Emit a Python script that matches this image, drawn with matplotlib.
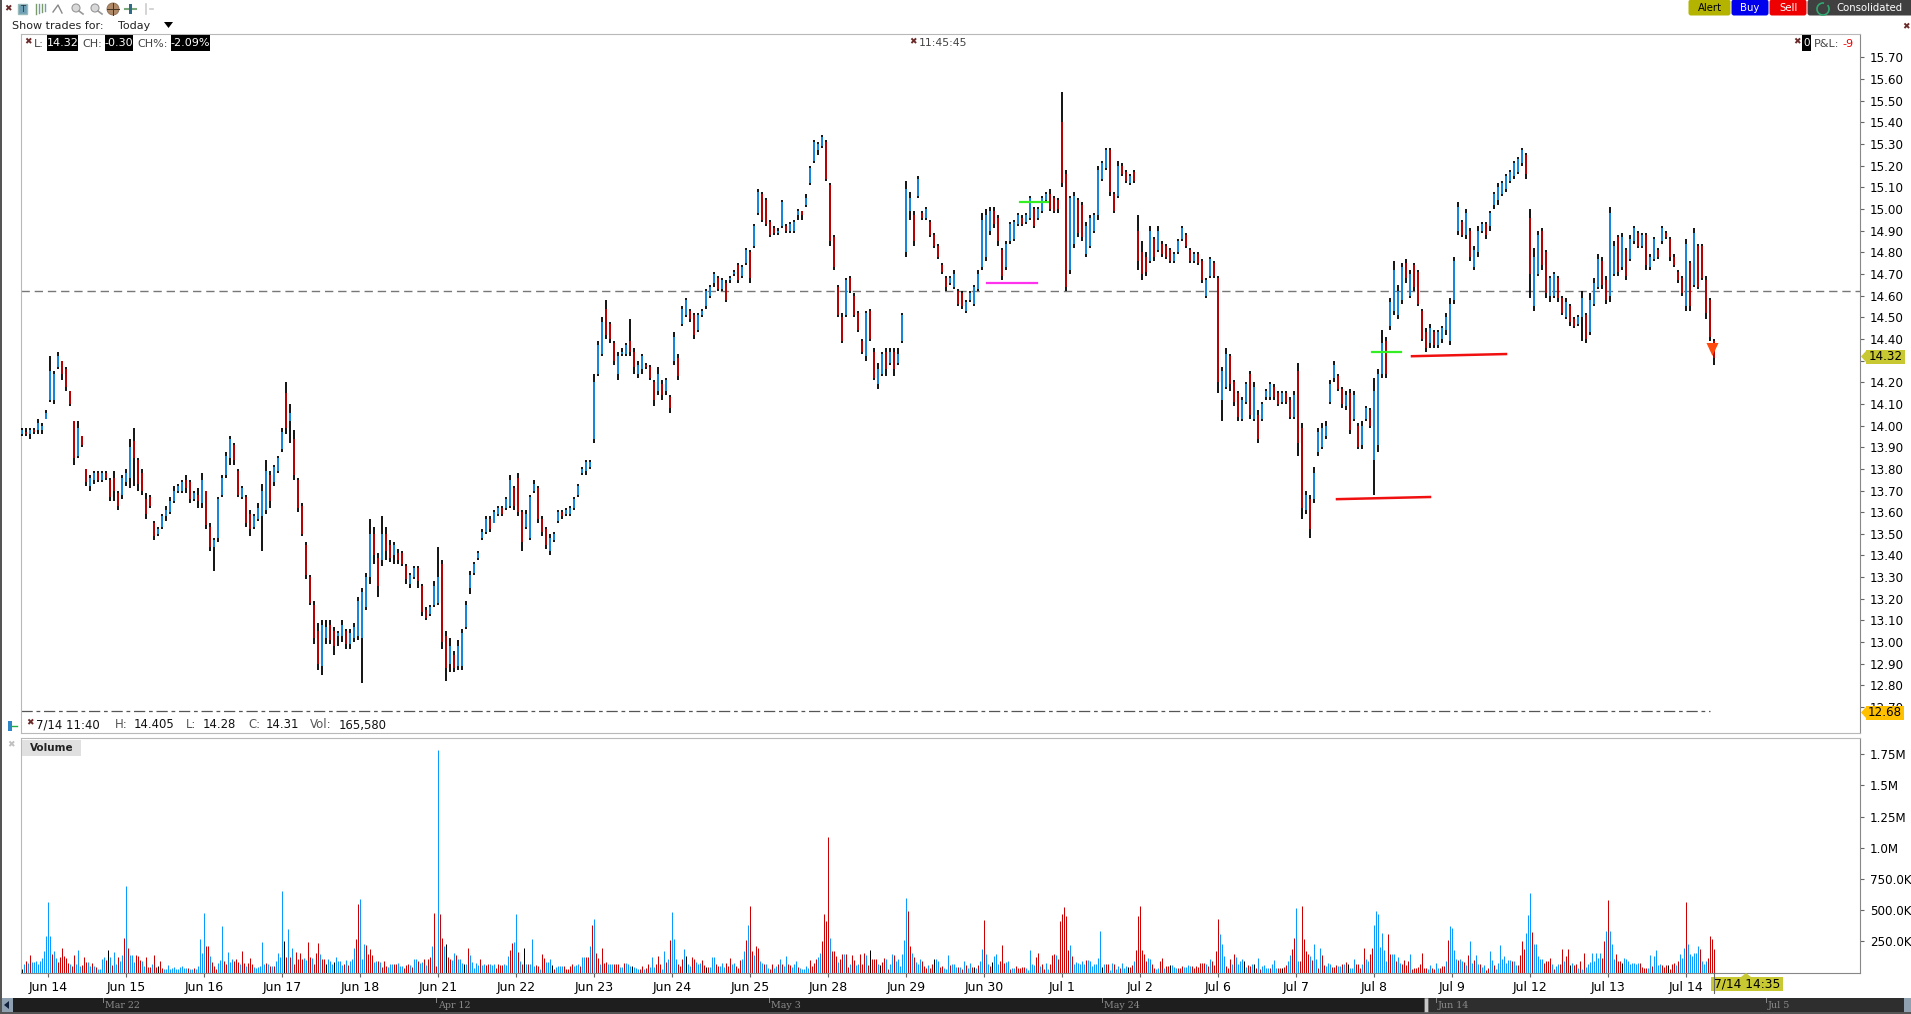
import matplotlib
matplotlib.use('Agg')
import matplotlib.pyplot as plt
import numpy as np
from matplotlib.patches import Rectangle, FancyBboxPatch, Polygon, Arc

W, H = 1911, 1014

# price bars in cents, one bar read for every two 10 minute bars
highs = [
 1399,1399,1399,1399,1403,1401,1407,1432,1425,1434, 1430,1427,1416,1402,1402,1395,1380,1377,1379,1379,
 1379,1379,1376,1379,1370,1377,1380,1394,1399,1385, 1380,1369,1368,1356,1353,1359,1363,1367,1372,1373,
 1375,1377,1375,1370,1371,1378,1370,1355,1348,1367, 1377,1388,1395,1392,1380,1372,1368,1361,1359,1364,
 1373,1384,1379,1382,1386,1399,1420,1410,1398,1376, 1364,1346,1331,1319,1309,1310,1310,1310,1307,1305,
 1310,1306,1306,1309,1321,1325,1332,1357,1353,1341, 1358,1353,1347,1346,1343,1342,1336,1332,1335,1335,
 1327,1316,1317,1328,1344,1338,1305,1302,1296,1301, 1306,1319,1333,
 1337,1342,1352,1358,1358,1361,1363,1363,1367,1377, 1372,1378,1361,1361,1368,1375,1372,1358,1353,1350,
 1351,1361,1361,1362,1363,1367,1373,1381,1384,1384, 1424,1439,1450,1458,1448,1439,1434,1436,1438,1449,
 1436,1430,1433,1429,1428,1421,1427,1421,1422,1414, 1443,1433,1455,1459,1454,1452,1452,1454,1463,1465,
 1471,1469,1468,1467,1469,1472,1475,1474,1482,1481, 1493,1509,1508,1505,1495,1492,1491,1504,1493,1494,
 1495,1500,1499,1507,1520,1532,1531,1534,1532,1512, 1488,1465,1452,1468,1469,1461,1453,1440,1453,1454,
 1436,1429,1434,1436,1436,1436,1436,1452, 1513,1508,1499,1515,
 1499,1501,1495,1489,1484,1475,1469,1469,1472,1463, 1462,1458,1462,1465,1472,1498,1500,1501,1501,1497,
 1482,1485,1494,1495,1498,1497,1498,1506,1501,1501, 1506,1508,1509,1506,1505,1554,1518,1506,1508,1505,
 1503,1494,1497,1498,1520,1522,1528,1528,1508,1522, 1521,1518,1516,1518,1497,1485,1480,1492,1487,1492,
 1485,1484,1482,1480,1486,1492,1489,1482,1480,1480,
 1477,1468,1478,1476,1469,1427,1436,1433,1421,1416, 1413,1420,1425,1420,1407,1411,1417,1420,1419,1416,
 1416,1416,1413,1416,1429,1401,1370,1368,1381,1399, 1401,1402,1421,1430,1424,1418,1416,1417,1416,1401,
 1402,1409,1408,1422,1426,1444,1441,1459,1476,1465, 1475,1477,1472,1475,1472,1454,1445,1447,1444,1444,
 1446,1452,1459,1478,1503,1495,1500,1491,1483,1492, 1494,1494,1499,1508,1512,1513,1516,1518,1522,1524,
 1528,1526,1500,1482,1490,1491,1481,1469,1471,1469, 1460,1459,1456,1450,1451,1462,1452,1461,1468,1479,
 1478,1469,1501,1485,1488,1489,1482,1488,1492,1490, 1489,1489,1479,1487,1482,1492,1490,1487,1479,1472,
 1469,1486,1476,1491,1484,1484,1469,1459,1440]
lows = [
 1395,1395,1394,1396,1396,1396,1403,1411,1410,1426, 1421,1416,1409,1382,1385,1390,1372,1370,1373,1374,
 1374,1375,1365,1365,1361,1366,1372,1371,1372,1370, 1368,1357,1362,1347,1349,1352,1356,1359,1364,1369,
 1369,1369,1364,1365,1362,1362,1352,1342,1333,1346, 1367,1376,1382,1382,1367,1366,1353,1349,1352,1356,
 1342,1359,1362,1372,1378,1388,1396,1392,1375,1360, 1349,1329,1317,1299,1287,1285,1299,1299,1294,1298,
 1300,1297,1297,1300,1301,1281,1315,1327,1336,1321, 1335,1338,1337,1336,1336,1335,1327,1325,1329,1325,
 1312,1310,1312,1316,1317,1297,1282,1286,1286,1287, 1287,1306,1322,
 1331,1338,1347,1350,1351,1355,1358,1358,1361,1362, 1361,1358,1342,1352,1347,1369,1355,1349,1343,1340,
 1346,1355,1357,1358,1358,1361,1367,1377,1377,1380, 1392,1423,1432,1440,1438,1428,1421,1432,1432,1432,
 1424,1422,1424,1426,1421,1409,1414,1412,1414,1406, 1428,1421,1446,1450,1448,1440,1443,1450,1454,1459,
 1464,1462,1462,1457,1466,1469,1466,1468,1474,1466, 1482,1497,1494,1492,1487,1488,1488,1491,1489,1489,
 1489,1495,1495,1501,1511,1521,1525,1528,1513,1483, 1472,1450,1438,1450,1461,1450,1443,1433,1430,1439,
 1421,1417,1423,1423,1428,1423,1428,1438, 1478,1495,1483,1505,
 1495,1495,1487,1482,1477,1470,1462,1465,1463,1455, 1454,1452,1457,1455,1462,1472,1476,1488,1491,1483,
 1467,1472,1484,1485,1492,1492,1493,1495,1491,1495, 1498,1503,1499,1498,1498,1510,1462,1470,1482,1487,
 1485,1478,1482,1489,1495,1513,1518,1506,1498,1505, 1515,1512,1511,1512,1472,1467,1469,1475,1476,1480,
 1478,1477,1475,1475,1479,1485,1482,1475,1475,1474,
 1466,1459,1468,1468,1415,1402,1417,1416,1409,1402, 1402,1410,1403,1402,1392,1402,1412,1412,1412,1409,
 1410,1410,1403,1403,1386,1357,1359,1348,1364,1386, 1389,1394,1410,1420,1416,1408,1407,1396,1402,1389,
 1389,1402,1399,1368,1388,1422,1422,1444,1451,1449, 1456,1466,1459,1462,1455,1439,1434,1436,1436,1436,
 1438,1442,1437,1456,1488,1487,1486,1476,1472,1478, 1489,1486,1490,1500,1502,1506,1508,1512,1514,1516,
 1520,1514,1459,1453,1469,1472,1459,1457,1459,1457, 1451,1449,1446,1445,1446,1439,1438,1442,1455,1463,
 1463,1456,1457,1469,1469,1472,1467,1476,1484,1482, 1482,1472,1472,1476,1477,1484,1486,1476,1473,1466,
 1460,1453,1453,1464,1463,1467,1449,1439,1428]
opens = [
 1396,1397,1396,1398,1398,1398,1403,1412,1412,1427, 1430,1426,1416,1402,1386,1395,1380,1372,1375,1378,
 1375,1378,1375,1376,1369,1368,1374,1376,1393,1384, 1378,1366,1367,1355,1350,1353,1358,1360,1365,1370,
 1370,1375,1374,1366,1368,1364,1370,1353,1344,1348, 1368,1377,1385,1391,1379,1367,1367,1359,1353,1357,
 1358,1361,1377,1374,1379,1389,1415,1402,1394,1375, 1363,1345,1330,1317,1305,1289,1302,1308,1305,1303,
 1303,1305,1299,1302,1303,1302,1316,1330,1350,1339, 1338,1350,1345,1340,1341,1341,1335,1327,1330,1334,
 1326,1315,1313,1317,1318,1336,1303,1290,1294,1289, 1289,1307,1325,
 1332,1339,1348,1351,1357,1355,1359,1362,1362,1363, 1371,1376,1360,1353,1348,1370,1371,1357,1352,1342,
 1347,1356,1360,1359,1359,1362,1368,1378,1379,1381, 1394,1424,1433,1454,1447,1438,1424,1433,1433,1439,
 1434,1424,1426,1428,1427,1420,1416,1419,1416,1413, 1430,1431,1447,1451,1453,1451,1444,1451,1455,1460,
 1466,1468,1463,1466,1467,1470,1474,1469,1475,1480, 1483,1498,1507,1504,1494,1491,1489,1492,1492,1490,
 1490,1497,1499,1502,1512,1522,1527,1529,1531,1511, 1487,1464,1450,1451,1468,1460,1452,1439,1432,1453,
 1434,1419,1424,1434,1429,1434,1429,1439, 1480,1499,1497,1506,
 1498,1496,1494,1488,1483,1474,1468,1466,1464,1462, 1461,1453,1458,1456,1463,1473,1478,1490,1499,1496,
 1481,1473,1485,1486,1493,1496,1494,1496,1500,1496, 1499,1504,1507,1505,1504,1540,1516,1472,1484,1504,
 1502,1479,1483,1490,1497,1514,1519,1527,1507,1506, 1520,1517,1512,1517,1490,1480,1478,1476,1486,1481,
 1484,1483,1481,1476,1480,1486,1488,1481,1476,1479,
 1476,1460,1469,1475,1468,1412,1418,1432,1420,1415, 1403,1411,1424,1403,1405,1403,1413,1413,1418,1415,
 1411,1415,1412,1404,1425,1399,1361,1366,1366,1388, 1390,1395,1411,1422,1423,1417,1409,1415,1403,1400,
 1391,1403,1407,1384,1391,1424,1439,1446,1453,1451, 1458,1475,1460,1474,1471,1453,1443,1438,1443,1437,
 1440,1444,1439,1458,1490,1494,1488,1490,1473,1480, 1490,1493,1492,1502,1504,1507,1509,1513,1515,1517,
 1521,1525,1496,1455,1470,1490,1480,1460,1460,1468, 1459,1450,1455,1449,1447,1450,1451,1443,1456,1464,
 1476,1467,1460,1470,1487,1473,1481,1477,1485,1489, 1483,1488,1473,1477,1481,1485,1489,1486,1478,1471,
 1468,1455,1475,1465,1483,1483,1467,1458,1439]
closes = [
 1398,1396,1398,1397,1401,1400,1406,1425,1424,1432, 1424,1418,1410,1385,1399,1391,1374,1376,1378,1375,
 1378,1376,1367,1370,1363,1376,1378,1390,1385,1373, 1370,1359,1363,1349,1352,1358,1361,1365,1370,1372,
 1374,1371,1366,1369,1365,1375,1354,1344,1347,1366, 1376,1386,1394,1384,1368,1371,1355,1352,1358,1362,
 1370,1379,1365,1381,1385,1397,1399,1406,1377,1362, 1350,1331,1318,1302,1290,1308,1307,1301,1298,1304,
 1308,1299,1304,1307,1319,1323,1330,1350,1340,1326, 1350,1342,1339,1345,1338,1336,1329,1331,1334,1328,
 1314,1311,1316,1326,1330,1300,1288,1298,1288,1298, 1304,1317,1331,
 1336,1341,1351,1357,1352,1360,1362,1359,1366,1375, 1363,1360,1346,1359,1367,1373,1357,1351,1345,1348,
 1350,1360,1358,1361,1362,1366,1372,1380,1383,1383, 1420,1437,1448,1442,1440,1430,1432,1434,1437,1434,
 1427,1428,1432,1427,1422,1412,1424,1414,1421,1408, 1441,1423,1454,1458,1449,1442,1451,1453,1462,1464,
 1470,1463,1467,1458,1468,1471,1467,1473,1481,1468, 1492,1508,1495,1493,1488,1489,1490,1503,1490,1493,
 1494,1499,1497,1505,1519,1531,1530,1533,1514,1485, 1473,1451,1439,1467,1462,1451,1444,1434,1452,1440,
 1422,1426,1433,1426,1434,1426,1433,1451, 1509,1505,1485,1514,
 1496,1500,1488,1483,1478,1471,1464,1468,1470,1456, 1455,1457,1461,1464,1470,1495,1497,1499,1493,1485,
 1469,1484,1493,1494,1497,1493,1497,1505,1492,1500, 1505,1507,1500,1499,1500,1512,1464,1505,1506,1489,
 1487,1492,1496,1497,1518,1521,1527,1508,1499,1520, 1516,1513,1515,1513,1476,1470,1471,1490,1478,1490,
 1479,1478,1476,1479,1485,1491,1483,1476,1479,1475,
 1467,1467,1477,1469,1420,1425,1433,1419,1411,1404, 1412,1419,1405,1418,1394,1410,1416,1419,1413,1410,
 1415,1411,1404,1414,1392,1362,1368,1352,1378,1397, 1399,1400,1419,1428,1417,1410,1414,1398,1414,1390,
 1400,1408,1400,1416,1424,1438,1424,1457,1472,1462, 1473,1468,1470,1464,1456,1440,1436,1445,1437,1443,
 1445,1450,1456,1476,1501,1488,1498,1478,1481,1490, 1493,1488,1498,1507,1510,1512,1515,1517,1521,1523,
 1527,1516,1470,1478,1488,1474,1461,1468,1470,1459, 1452,1457,1448,1446,1450,1459,1440,1458,1466,1477,
 1465,1458,1498,1483,1471,1487,1469,1486,1491,1483, 1488,1474,1478,1486,1478,1491,1487,1478,1474,1467,
 1461,1484,1455,1489,1464,1468,1452,1441,1431]

# first day-tick bar index is 13, one day is 39 bars
day_labels = ['Jun 14','Jun 15','Jun 16','Jun 17','Jun 18','Jun 21','Jun 22','Jun 23','Jun 24','Jun 25','Jun 28',
              'Jun 29','Jun 30','Jul 1','Jul 2','Jul 6','Jul 7','Jul 8','Jul 9','Jul 12','Jul 13','Jul 14']

# volume in thousands, per session
vol_pre = [30,65,90,75,140,85,85,90,70,90,115,175,290]
vol_days = [
 [565,290,145,175,115,85,125,195,130,115,75,65,55,140,65,180,55,60,125,85,85,55,75,50,45,30,25,105,125,100,180,125,60,165,70,125,90,140,275],
 [695,200,140,140,85,140,135,100,90,50,125,45,45,65,140,45,55,90,35,30,25,60,30,40,45,25,30,45,55,35,35,35,25,25,40,25,50,265,160],
 [480,210,210,130,85,55,25,75,100,370,90,65,165,85,105,90,105,85,70,175,75,50,75,115,65,45,40,45,50,245,65,75,70,55,55,55,95,155,125],
 [650,250,125,345,125,195,70,165,110,155,110,115,100,245,125,115,70,155,235,145,105,105,70,105,90,70,85,125,90,90,60,65,100,60,95,105,195,265,550],
 [590,105,225,220,145,185,140,85,90,90,85,45,90,55,45,70,65,65,65,75,50,50,35,60,65,60,45,105,105,90,80,85,105,60,105,125,210,480,50],
 [1780,470,275,210,225,125,110,100,155,140,105,110,75,65,70,195,140,85,35,75,60,105,60,70,60,65,65,60,65,35,70,60,60,65,60,130,180,240,245],
 [467,165,90,65,195,70,65,65,265,55,60,50,30,145,120,85,85,110,60,30,45,55,55,55,50,30,30,55,65,50,60,70,55,125,125,125,125,210,380],
 [425,160,120,65,200,75,85,65,65,70,65,65,65,45,45,80,80,65,55,55,45,40,25,30,55,30,40,65,45,125,45,65,130,70,30,175,85,105,260],
 [485,270,105,70,55,105,185,130,65,50,125,105,85,70,80,100,60,45,45,45,125,125,70,50,55,80,45,80,50,115,65,75,50,40,100,105,170,260,380],
 [530,170,140,210,195,90,75,65,70,40,25,70,35,55,65,110,65,50,130,70,60,45,65,95,45,40,30,30,50,40,100,55,80,110,125,160,250,470,410],
 [1090,275,175,175,130,85,110,150,150,145,45,65,140,100,60,70,145,70,160,140,60,180,110,110,110,70,60,85,120,110,30,70,150,140,90,105,50,145,260],
 [600,490,210,160,125,85,70,110,95,50,40,60,40,65,105,110,90,45,50,35,25,140,60,70,70,45,45,45,30,90,60,40,80,45,45,35,60,90,185],
 [420,150,70,55,85,130,145,70,90,220,80,85,90,30,40,40,50,40,35,45,45,35,20,180,70,60,125,160,55,70,30,80,30,70,140,150,140,110,410],
 [465,525,450,180,220,130,65,85,75,70,90,65,100,100,90,55,65,70,115,330,45,70,65,70,20,80,65,30,50,40,80,40,55,45,45,60,90,180,450],
 [530,180,145,90,120,105,70,35,25,35,90,120,40,55,50,60,60,45,35,40,40,50,45,45,60,50,55,40,55,45,75,80,80,70,50,110,90,60,170],
 [425,305,230,130,50,40,110,70,150,125,65,95,105,90,45,60,50,70,70,35,120,30,50,60,40,35,35,70,100,40,40,40,40,45,60,95,140,185,280],
 [520,95,90,530,265,170,145,135,100,225,110,40,200,140,60,50,80,65,45,45,60,50,50,65,70,85,70,35,40,105,65,65,35,70,195,105,90,150,200],
 [380,490,465,205,315,180,90,305,150,145,150,90,125,75,65,100,60,90,145,30,40,35,45,65,160,40,40,30,60,40,30,80,35,35,55,55,95,260,370],
 [360,180,105,100,110,95,85,60,140,250,80,100,140,70,65,45,60,20,35,170,100,60,30,80,220,105,130,75,100,100,90,90,60,60,140,250,185,320,460],
 [640,325,225,225,130,105,110,80,90,90,120,65,30,50,70,65,185,95,130,185,60,75,60,70,35,95,30,155,45,65,85,155,90,155,120,155,115,250,330],
 [585,330,225,110,150,90,90,80,115,105,90,70,75,80,70,80,75,45,40,35,35,140,50,130,180,60,65,60,45,60,60,30,70,80,60,90,145,120,200],
 [565,225,145,130,155,155,215,185,90,65,90,120,295,265,185],
]
# bar colour per session: b up, r down, k unchanged
col_pre = 'kbrbrbbbbbbbb'
col_days = [
 'bbrbbrrrrrrbrrbbbrrrbbrbrbbbbrkbrbbrbbr',
 'brbbbrrrbbrrrbrrkrrbbbbbbbbbbbbrbbrbbbb',
 'brrbrrrbbbrrbbbrrrbrrbrrrbbbbbbrbrbrbbb',
 'bkrbrbrrrrrbbrrbrrrbrrkbbbkbbbbrbrbbbrr',
 'bbbrrrrbbrbrrrbbbrrbbbrrrbrbbrbbrbrrbrr',
 'brrbkrrbbrbbbkbrbbbbbrbbrrbbbrrrrbbbrrb',
 'brbrkbrbbbrrbrrbbbkrbbbbrrrrrbbbrbbrrbr',
 'brrbrrrbbbrrrbbrbbbkbbbrrbrrbbbrrrbbrbr',
 'bbbrrrbkbbrrbbbrrkrbbbrrbbbrrrbbrrrbbrb',
 'rrbrrbbrbbrrbbrbrbbrrbbbrbbbbbrrrrbbrrr',
 'rbrrrbrrbrrbrrbbrrrbrkrrrbkrrbrbbrbbbbb',
 'brrbrbbbrrrbrrkbbrrbbbrbbbrbrbrbbrkbrbb',
 'rbbrkbbbrrrbbrbbrrrrrbbbbbrrbrrbbrrrbrr',
 'rrrrbrbbbbbbrbbbbbbbkbrrbbrbbrbbbkrrbrr',
 'rrrrbbrrbbrrbrrkbbbrrrbbbbrrrrrrrbrbrrr',
 'rbbbrrrbrbbbbkbrrbkrbrbbbbrbbbrrkrrbbrr',
 'bbrrrrrbrbbrbrrbbbrrrbbrbrkbbbrrrbrbbrr',
 'bbbbbbbrrbbrbbrrrrbrrrrrrrrbbrrbbrrrbrb',
 'bbbrbbrbrbbrbbrbbrrbbrbbbbbbbbrbbrrrrbb',
 'brbbbbbrrrrbrbbrrbrrkbrrbrbrbbbbbbbbrrb',
 'rbbbrrrkbbbbbbbbrrrrbbrbbbbrrrkrrrbrbbb',
 'rbbbbbbrbbbrrrr',
]

levels_price = [12.7 + 0.1*k for k in range(31)]
vol_ticks = [250,500,750,1000,1250,1500,1750]
vol_tick_labels = ['250.0K','500.0K','750.0K','1.0M','1.25M','1.5M','1.75M']

BLUE = '#1a94ee'
RED = '#c80000'
BODY = {'b': '#0a9bff', 'r': '#cc0000', 'k': '#000000'}

def px2ax(l, t, r, b):
    return [l/W, 1-b/H, (r-l)/W, (b-t)/H]

def bar_x(px):
    return (px-21.8)/2.0

fig = plt.figure(figsize=(W/100, H/100), dpi=100, facecolor='white')

# price panel
ax = fig.add_axes(px2ax(20.5, 34, 1860, 733))
hi = np.array(highs)/100
lo = np.array(lows)/100
op = np.array(opens)/100
cl = np.array(closes)/100
n = min(len(hi), len(lo), len(op), len(cl))
xs = np.arange(n)*2
ax.vlines(xs, lo[:n], hi[:n], color='black', linewidth=1.3, zorder=3)
body_cols = [BLUE if c >= o else RED for o, c in zip(op[:n], cl[:n])]
ax.vlines(xs, np.minimum(op[:n], cl[:n]), np.maximum(op[:n], cl[:n]), colors=body_cols, linewidth=1.3, zorder=4)
ax.axhline(14.62, color='#777777', linewidth=1.0, dashes=(6, 3.5), zorder=2)
ax.plot([bar_x(20.5), bar_x(1710)], [12.68, 12.68], color='#555555', linewidth=0.9, dashes=(9, 3, 3, 3), zorder=2)
ax.set_xlim(bar_x(20.5), bar_x(1860))
ax.set_ylim(15.7-(733-57.3)/216.6, 15.7+(57.3-34)/216.6)
ax.yaxis.tick_right()
ax.set_yticks(levels_price)
# 14.30 sits fully under the last price tag
ax.set_yticklabels(['' if abs(v-14.3) < 0.01 else '%.2f' % v for v in levels_price], fontsize=8.6)
ax.tick_params(axis='y', length=3, width=0.8, color='#666666', pad=4)
ax.set_xticks([])
for s in ['left', 'top', 'bottom']:
    ax.spines[s].set_color('#b8b8b8')
ax.spines['right'].set_color('#888888')

# hand drawn lines
ax.plot([bar_x(987), bar_x(1037)], [14.66, 14.66], color='#ff33ee', linewidth=1.6, zorder=5)
ax.plot([bar_x(1020), bar_x(1048)], [15.03, 15.03], color='#33ee22', linewidth=1.6, zorder=5)
ax.plot([bar_x(1372), bar_x(1401)], [14.34, 14.34], color='#33ee22', linewidth=1.6, zorder=5)
ax.plot([bar_x(1337), bar_x(1430)], [13.66, 13.67], color='#f01010', linewidth=1.8, zorder=5)
ax.plot([bar_x(1412), bar_x(1506)], [14.32, 14.33], color='#f01010', linewidth=1.8, zorder=5)

# volume panel
vax = fig.add_axes(px2ax(20.5, 738, 1860, 972.5))
vol_x, vol_y, vol_c = [], [], []
for k, v in enumerate(vol_pre):
    vol_x.append(k)
    vol_y.append(v)
    vol_c.append(BODY[col_pre[k % len(col_pre)]])
for d, day in enumerate(vol_days):
    for k, v in enumerate(day):
        vol_x.append(13+39*d+k)
        vol_y.append(v)
        vol_c.append(BODY[col_days[d][k % len(col_days[d])]])
vax.vlines(vol_x, 0, vol_y, colors=vol_c, linewidth=0.72)
vax.set_xlim(bar_x(20.5), bar_x(1860))
vax.set_ylim(0, 235/125*1000)
vax.yaxis.tick_right()
vax.set_yticks(vol_ticks)
vax.set_yticklabels(vol_tick_labels, fontsize=8.6)
vax.tick_params(axis='y', length=3, width=0.8, color='#666666', pad=4)
day_ticks = [13+39*d for d in range(len(day_labels))]
vax.set_xticks(day_ticks)
vax.set_xticklabels(day_labels, fontsize=9)
vax.tick_params(axis='x', length=3, width=0.8, color='#666666', pad=3)
for s in ['left', 'top']:
    vax.spines[s].set_color('#b8b8b8')
for s in ['right', 'bottom']:
    vax.spines[s].set_color('#888888')

# everything around the panels, drawn in pixels
ov = fig.add_axes([0, 0, 1, 1], zorder=10)
ov.set_xlim(0, W)
ov.set_ylim(H, 0)
ov.axis('off')

def label(x, y, s, color='black', size=8, ha='left', **kw):
    ov.text(x, y, s, color=color, fontsize=size, ha=ha, va='center', **kw)

def badge(x0, x1, y0, y1, s, fc='black', color='white', size=8):
    ov.add_patch(Rectangle((x0, y0), x1-x0, y1-y0, fc=fc, ec='none'))
    ov.text((x0+x1)/2, (y0+y1)/2, s, color=color, fontsize=size, ha='center', va='center')

def closer(x, y, color='#6b2a2a'):
    ov.text(x, y, '\u2716', color=color, fontsize=6.5, ha='center', va='center')

def button(x0, x1, s, fc, color='white'):
    ov.add_patch(FancyBboxPatch((x0+3, 2), x1-x0-6, 11, boxstyle='round,pad=2.5', fc=fc, ec='none'))
    ov.text((x0+x1)/2, 8, s, color=color, fontsize=7.3, ha='center', va='center')

ov.add_patch(Rectangle((0, 0), 2, H, fc='#555555', ec='none'))

# toolbar
closer(8, 9)
ov.add_patch(Rectangle((18, 4), 9, 10, fc='#6f9fb5', ec='#9bb'))
ov.text(22.5, 9, 'T', fontsize=6, ha='center', va='center', color='#234')
for k, xb in enumerate([36, 39, 42, 45]):
    ov.plot([xb, xb], [4, 14-k], color='#6f9fb5' if k % 2 else '#7a9a6a', linewidth=1)
ov.plot([53, 58, 62], [12, 5, 13], color='#888888', linewidth=1)
for xc in [76, 95]:
    ov.add_patch(plt.Circle((xc, 8), 4, fc='#d8d8d8', ec='#999999', linewidth=0.8))
    ov.plot([xc+3, xc+7], [11, 14], color='#999999', linewidth=1.2)
ov.add_patch(plt.Circle((113, 9), 6, fc='#b08a68', ec='#8a6a50', linewidth=0.6))
ov.plot([107, 119], [9, 9], color='#443322', linewidth=0.7)
ov.plot([113, 113], [3, 15], color='#443322', linewidth=0.7)
ov.add_patch(Rectangle((129, 4), 3, 10, fc='#2f6b86', ec='none'))
ov.plot([125, 128], [9, 9], color='#7aa87a', linewidth=1.5)
ov.plot([133, 136], [9, 9], color='#7aa87a', linewidth=1.5)
ov.plot([146, 146], [4, 14], color='#cccccc', linewidth=1.2)
ov.plot([150, 153], [9, 9], color='#cccccc', linewidth=1.2)

label(12, 26, 'Show trades for:', color='#222222', size=8)
label(118, 26, 'Today', color='#222222', size=8)
ov.add_patch(Polygon([[164, 22], [173, 22], [168.5, 28]], fc='black', ec='none'))

button(1688, 1731, 'Alert', '#b4b400', color='black')
button(1731, 1769, 'Buy', '#0000ee')
button(1769, 1807, 'Sell', '#ee0000')
button(1807, 1920, '', '#404040')
ov.add_patch(Arc((1823, 9), 12, 12, theta1=-40, theta2=280, color='#30a870', linewidth=1.2))
label(1836, 8, 'Consolidated', color='white', size=7.3)
closer(1906, 27)

# status line on top of the price panel
closer(28, 42)
label(34, 44, 'L:', color='#444444')
badge(47, 78, 35, 51, '14.32')
label(82, 44, 'CH:', color='#444444')
badge(105, 133, 35, 51, '-0.30')
label(137, 44, 'CH%:', color='#444444')
badge(171, 210, 35, 51, '-2.09%')
closer(913, 42)
label(919, 43, '11:45:45', color='#444444', size=7.8)
closer(1797, 42)
badge(1802, 1811, 35, 51, '0', size=7.5)
label(1814, 44, 'P&L:', color='#444444')
label(1842, 44, '-9', color='#ee0000')

# cursor read out
closer(30, 723)
label(36, 725, '7/14 11:40', color='#111111', size=8.4)
label(115, 725, 'H:', color='#555555', size=8.4)
label(134, 725, '14.405', color='#111111', size=8.4)
label(186, 725, 'L:', color='#555555', size=8.4)
label(203, 725, '14.28', color='#111111', size=8.4)
label(248, 725, 'C:', color='#555555', size=8.4)
label(266, 725, '14.31', color='#111111', size=8.4)
label(310, 725, 'Vol:', color='#555555', size=8.4)
label(339, 725, '165,580', color='#111111', size=8.4)
ov.add_patch(Rectangle((8, 721), 4, 10, fc='#2f86c8', ec='none'))
ov.plot([11, 17], [726, 726], color='#22aa44', linewidth=1)
closer(11, 745, color='#c0c0c0')

ov.add_patch(Rectangle((22, 740), 59, 16, fc='#e0e0e0', ec='none'))
label(51.5, 748, 'Volume', color='#222222', size=7.5, ha='center', fontweight='bold')

# marker and price tags
ov.add_patch(Polygon([[1706.5, 343], [1718.5, 343], [1712.5, 356]], fc='#ff4a10', ec='none'))
ov.add_patch(Polygon([[1866, 351], [1866, 362], [1861, 356.5]], fc='#c8c832', ec='none'))
badge(1866, 1905, 349.5, 363.5, '14.32', fc='#c8c832', color='black', size=8.6)
ov.add_patch(Polygon([[1866, 707], [1866, 718], [1861, 712.5]], fc='#ffc000', ec='none'))
badge(1866, 1904, 705.5, 719.5, '12.68', fc='#ffc000', color='black', size=8.6)
ov.add_patch(Polygon([[1741, 977], [1751, 977], [1746, 973]], fc='#c8c832', ec='none'))
badge(1711, 1783, 977, 991, '7/14 14:35', fc='#c8c832', color='black', size=8.8)
ov.plot([1714, 1714], [973, 993], color='#666666', linewidth=0.8)

# overview strip along the bottom
ov.add_patch(Rectangle((2, 1012), W, 2, fc='#555555', ec='none'))
ov.add_patch(Rectangle((13, 998), 1412, 14, fc='#1e1e1e', ec='none'))
ov.add_patch(Rectangle((1428, 998), 476, 14, fc='#2e2e2e', ec='none'))
ov.add_patch(Rectangle((2, 998), 11, 14, fc='#8fa0b0', ec='none'))
ov.add_patch(Polygon([[4, 1005], [9, 1001], [9, 1009]], fc='#102040', ec='none'))
ov.add_patch(Rectangle((1424, 998), 4, 14, fc='#c8c8c8', ec='#555555', linewidth=0.4))
ov.add_patch(Rectangle((1904, 998), 7, 14, fc='#8fa0b0', ec='none'))
for xs_lab, s in [(103, 'Mar 22'), (436, 'Apr 12'), (769, 'May 3'), (1102, 'May 24'), (1436, 'Jun 14'), (1766, 'Jul 5')]:
    ov.plot([xs_lab, xs_lab], [998, 1002], color='#888888', linewidth=0.7)
    ov.text(xs_lab+2, 1006, s, color='#8a8a8a', fontsize=6.8, family='DejaVu Serif', ha='left', va='center')

fig.savefig('out.png', dpi=100, facecolor='white')
